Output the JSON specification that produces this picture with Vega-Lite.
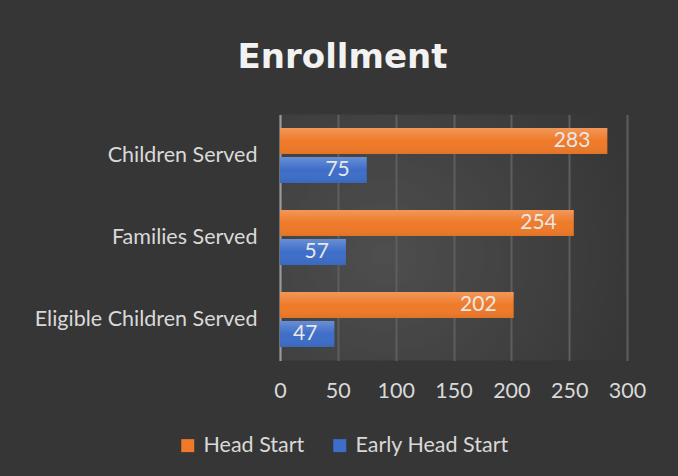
{
  "$schema": "https://vega.github.io/schema/vega-lite/v6.json",
  "autosize": {"type": "none"},
  "width": 347,
  "height": 246,
  "padding": {"left": 280, "top": 114.5, "right": 51, "bottom": 115.5},
  "background": "#363636",
  "config": {
    "font": "Lato",
    "view": {
      "stroke": null,
      "fill": {
        "gradient": "radial",
        "x1": 0.3, "y1": 0.55, "r1": 0,
        "x2": 0.3, "y2": 0.55, "r2": 0.75,
        "stops": [
          {"offset": 0, "color": "#4e4e4e"},
          {"offset": 1, "color": "#363636"}
        ]
      }
    }
  },
  "title": {
    "text": "Enrollment",
    "anchor": "middle",
    "frame": "group",
    "dx": -111,
    "offset": 13,
    "baseline": "alphabetic",
    "font": "DejaVu Sans",
    "fontSize": 34,
    "fontWeight": "bold",
    "color": "#f2f2f2",
    "limit": 0
  },
  "data": {
    "values": [
      {"category": "Children Served", "series": "Head Start", "value": 283},
      {"category": "Children Served", "series": "Early Head Start", "value": 75},
      {"category": "Families Served", "series": "Head Start", "value": 254},
      {"category": "Families Served", "series": "Early Head Start", "value": 57},
      {"category": "Eligible Children Served", "series": "Head Start", "value": 202},
      {"category": "Eligible Children Served", "series": "Early Head Start", "value": 47}
    ]
  },
  "encoding": {
    "y": {
      "field": "category",
      "type": "nominal",
      "sort": ["Children Served", "Families Served", "Eligible Children Served"],
      "scale": {"paddingInner": 0.33, "paddingOuter": 0.165},
      "axis": {
        "title": null,
        "ticks": false,
        "domain": true,
        "domainColor": "#9a9a9a",
        "domainWidth": 2,
        "labelFontSize": 21.5,
        "labelColor": "#d9d9d9",
        "labelPadding": 23,
        "labelLimit": 400
      }
    },
    "yOffset": {
      "field": "series",
      "type": "nominal",
      "sort": ["Head Start", "Early Head Start"],
      "scale": {"paddingInner": 0.11, "paddingOuter": 0}
    },
    "x": {
      "field": "value",
      "type": "quantitative",
      "scale": {"domain": [0, 300], "nice": false},
      "axis": {
        "title": null,
        "values": [0, 50, 100, 150, 200, 250, 300],
        "domain": false,
        "ticks": false,
        "grid": true,
        "gridColor": "#5e5e5e",
        "gridWidth": 2,
        "labelFontSize": 21.5,
        "labelColor": "#d9d9d9",
        "labelPadding": 20,
        "labelFlush": false
      }
    }
  },
  "layer": [
    {
      "mark": {"type": "bar"},
      "encoding": {
        "color": {
          "field": "series",
          "type": "nominal",
          "sort": ["Head Start", "Early Head Start"],
          "scale": {
            "domain": ["Head Start", "Early Head Start"],
            "range": ["#ef7a29", "#3e6ec9"]
          },
          "legend": {
            "title": null,
            "orient": "none",
            "direction": "horizontal",
            "legendX": -103,
            "legendY": 320,
            "symbolType": "square",
            "symbolSize": 169,
            "symbolStrokeWidth": 0,
            "symbolOpacity": 1,
            "labelFontSize": 21.5,
            "labelColor": "#d9d9d9",
            "labelOffset": 5,
            "columnPadding": 24
          }
        }
      }
    },
    {
      "mark": {
        "type": "bar",
        "fill": {
          "gradient": "linear", "x1": 0, "y1": 0, "x2": 0, "y2": 1,
          "stops": [
            {"offset": 0, "color": "rgba(255,255,255,0.22)"},
            {"offset": 0.5, "color": "rgba(255,255,255,0.0)"},
            {"offset": 1, "color": "rgba(0,0,0,0.06)"}
          ]
        }
      },
      "encoding": {}
    },
    {
      "mark": {"type": "text", "align": "right", "baseline": "middle", "dx": -17, "fontSize": 21, "color": "#e8e8e8"},
      "encoding": {
        "text": {"field": "value", "type": "quantitative"}
      }
    }
  ]
}
